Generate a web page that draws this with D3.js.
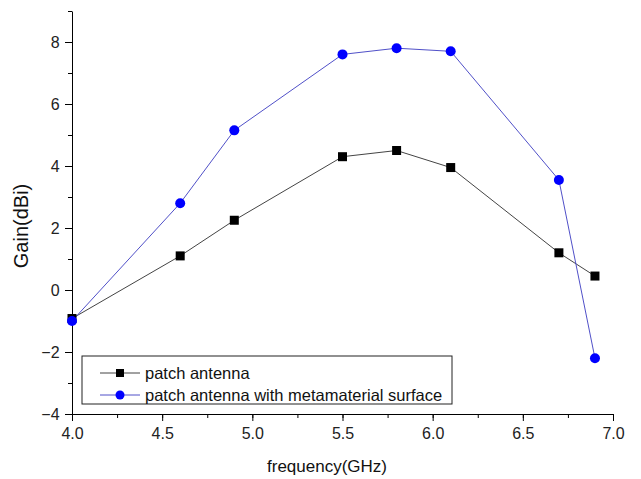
<!DOCTYPE html>
<html>
<head>
<meta charset="utf-8">
<script src="https://cdn.jsdelivr.net/npm/d3@7"></script>
<style>
body { margin: 0; background: #fff; }
text { font-family: "Liberation Sans", Arial, sans-serif; }
</style>
</head>
<body>
<svg width="641" height="479"></svg>
<script>
var svgWidth = 641, svgHeight = 479;
var freq = [4.0, 4.6, 4.9, 5.5, 5.8, 6.1, 6.7, 6.9];
var patch = [-0.92, 1.1, 2.25, 4.3, 4.5, 3.95, 1.2, 0.45];
var meta = [-1.0, 2.8, 5.15, 7.6, 7.8, 7.7, 3.55, -2.2];
var seriesNames = ['patch antenna', 'patch antenna with metamaterial surface'];
var xTicks = [4.0, 4.5, 5.0, 5.5, 6.0, 6.5, 7.0];
var yTicks = [-4, -2, 0, 2, 4, 6, 8];

var x = d3.scaleLinear().domain([4.0, 7.0]).range([72, 613]);
var y = d3.scaleLinear().domain([-4, 9]).range([414, 11]);

var svg = d3.select('svg');

// minor ticks
var xMinor = d3.range(4.0, 7.001, 0.25);
var yMinor = d3.range(-4, 9.001, 1);

svg.append('g')
    .attr('transform', 'translate(0,414)')
    .call(d3.axisBottom(x).tickValues(xMinor).tickSize(4).tickFormat(''))
    .call(function (g) { g.select('.domain').remove(); });
svg.append('g')
    .attr('transform', 'translate(72,0)')
    .call(d3.axisLeft(y).tickValues(yMinor).tickSize(4).tickFormat(''))
    .call(function (g) { g.select('.domain').remove(); });

var xAxis = svg.append('g')
    .attr('transform', 'translate(0,414)')
    .call(d3.axisBottom(x).tickValues(xTicks).tickSize(7).tickSizeOuter(0)
        .tickFormat(d3.format('.1f')));
xAxis.selectAll('text').attr('font-size', 16).attr('fill', '#222').attr('dy', '0.95em');

var yAxis = svg.append('g')
    .attr('transform', 'translate(72,0)')
    .call(d3.axisLeft(y).tickValues(yTicks).tickSize(7).tickSizeOuter(0));
yAxis.selectAll('text').attr('font-size', 16).attr('fill', '#222').attr('dx', '-0.15em');
svg.selectAll('.domain, .tick line').attr('stroke', '#000');

svg.append('text')
    .attr('x', 327).attr('y', 472)
    .attr('text-anchor', 'middle')
    .attr('font-size', 17).attr('fill', '#111')
    .text('frequency(GHz)');
svg.append('text')
    .attr('transform', 'translate(28,226) rotate(-90)')
    .attr('text-anchor', 'middle')
    .attr('font-size', 20).attr('fill', '#111')
    .text('Gain(dBi)');

var line = d3.line()
    .x(function (d) { return x(d[0]); })
    .y(function (d) { return y(d[1]); });

var patchPts = d3.zip(freq, patch);
var metaPts = d3.zip(freq, meta);

svg.append('path').datum(patchPts)
    .attr('d', line).attr('fill', 'none')
    .attr('stroke', '#444').attr('stroke-width', 1);
svg.append('path').datum(metaPts)
    .attr('d', line).attr('fill', 'none')
    .attr('stroke', '#5050c8').attr('stroke-width', 1);

svg.selectAll('rect.pt').data(patchPts).enter()
    .append('rect').attr('class', 'pt')
    .attr('x', function (d) { return x(d[0]) - 4.5; })
    .attr('y', function (d) { return y(d[1]) - 4.5; })
    .attr('width', 9).attr('height', 9)
    .attr('fill', '#000');
svg.selectAll('circle.pt').data(metaPts).enter()
    .append('circle').attr('class', 'pt')
    .attr('cx', function (d) { return x(d[0]); })
    .attr('cy', function (d) { return y(d[1]); })
    .attr('r', 5)
    .attr('fill', '#0000ff');

// legend
var legend = svg.append('g');
legend.append('rect')
    .attr('x', 82).attr('y', 356).attr('width', 370).attr('height', 48)
    .attr('fill', '#fff').attr('stroke', '#222').attr('stroke-width', 1);
var rows = [373, 395];
rows.forEach(function (ry, i) {
    legend.append('line')
        .attr('x1', 100).attr('x2', 140).attr('y1', ry).attr('y2', ry)
        .attr('stroke', i === 0 ? '#444' : '#5050c8');
    if (i === 0) {
        legend.append('rect').attr('x', 116).attr('y', ry - 4).attr('width', 8).attr('height', 8).attr('fill', '#000');
    } else {
        legend.append('circle').attr('cx', 120).attr('cy', ry).attr('r', 4.5).attr('fill', '#0000ff');
    }
    legend.append('text')
        .attr('x', 145).attr('y', ry + 6)
        .attr('font-size', 16.5).attr('fill', '#111')
        .text(seriesNames[i]);
});
</script>
</body>
</html>
